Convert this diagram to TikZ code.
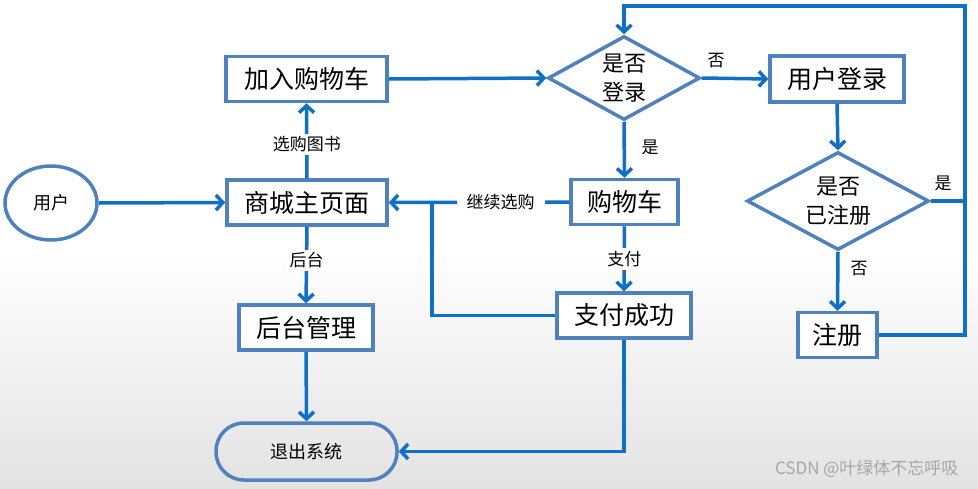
\documentclass[tikz,border=0pt]{standalone}
\usepackage{fontspec}
\setmainfont{Noto Sans CJK SC}
\usetikzlibrary{arrows.meta,shapes.geometric,calc}
\definecolor{lineblue}{RGB}{16,112,200}
\definecolor{boxblue}{RGB}{79,129,189}
\begin{document}
\begin{tikzpicture}[x=1pt,y=-1pt,
  box/.style={draw=boxblue,line width=3.5pt,fill=white,rectangle,inner sep=0pt,font=\fontsize{25}{29}\selectfont},
  diam/.style={draw=boxblue,line width=3.5pt,fill=white,diamond,inner sep=0pt,aspect=1.8},
  dtext/.style={align=center,font=\fontsize{22}{29}\selectfont},
  conn/.style={draw=lineblue,line width=3.5pt},
  arr/.style={conn,-{Straight Barb[length=7pt,width=15pt]}},
  lbl/.style={font=\fontsize{17}{20}\selectfont,fill=white,inner sep=3pt}
]
% background
\useasboundingbox (0,0) rectangle (978,488);
\fill[white] (0,0) rectangle (978,488);
\shade[top color=white,bottom color=black!11] (0,250) rectangle (978,488);

% nodes
\node[draw=boxblue,line width=3.5pt,ellipse,minimum width=92pt,minimum height=74pt,inner sep=0pt,font=\fontsize{18}{20}\selectfont,fill=white] (user) at (51,203) {用户};
\node[box,minimum width=160pt,minimum height=45pt] (mall) at (307,202.5) {商城主页面};
\node[box,minimum width=161pt,minimum height=45pt] (add) at (306.5,79) {加入购物车};
\node[diam,minimum width=152pt,minimum height=84pt] (login) at (624,78) {};
\node[dtext] (logintext) at (login) {是否\\登录};
\node[box,minimum width=134pt,minimum height=46pt] (ulogin) at (837,79) {用户登录};
\node[diam,minimum width=182pt,minimum height=98pt] (reg) at (838,201) {};
\node[dtext] (regtext) at (reg) {是否\\已注册};
\node[box,minimum width=79pt,minimum height=45pt] (register) at (837.5,335) {注册};
\node[box,minimum width=107pt,minimum height=45pt] (cart) at (624.5,202) {购物车};
\node[box,minimum width=134pt,minimum height=45pt] (paid) at (624,315.5) {支付成功};
\node[box,minimum width=134pt,minimum height=45pt] (admin) at (306,327.5) {后台管理};
\node[draw=boxblue,line width=3.5pt,rectangle,rounded corners=28pt,minimum width=181pt,minimum height=57pt,inner sep=0pt,font=\fontsize{18}{20}\selectfont] (exit) at (306.5,451.5) {退出系统};

% helper coordinates
\coordinate (tr) at (965,6);
\coordinate (jn) at (432,202.5);

% connectors
\draw[arr] (user.east) -- (mall.west);
\draw[arr] (mall.north) -- node[lbl,pos=0.45] (l1) {选购图书} (add.south);
\draw[arr] (add.east) -- (login.west);
\draw[arr] (login.east) -- (ulogin.west);
\node[font=\fontsize{17}{20}\selectfont] (lno1) at (716,61) {否};
\draw[arr] (login.south) -- (cart.north);
\node[font=\fontsize{17}{20}\selectfont] (lyes1) at (650,147) {是};
\draw[arr] (ulogin.south) -- (reg.north);
\draw[arr] (reg.south) -- (register.north);
\node[font=\fontsize{17}{20}\selectfont] (lno2) at (859,269) {否};
\draw[arr] (register.east) -| (tr) -| (login.north);
\draw[conn] (reg.east) -- (reg.east -| tr);
\node[font=\fontsize{17}{20}\selectfont] (lyes2) at (943,183) {是};
\draw[arr] (cart.west) -- node[lbl,pos=0.38,inner xsep=10pt] (l2) {继续选购} (mall.east);
\draw[arr] (cart.south) -- node[lbl,pos=0.5] (l3) {支付} (paid.north);
\draw[conn] (paid.west) -| (jn);
\draw[arr] (paid.south) |- (exit.east);
\draw[arr] (mall.south) -- node[lbl,pos=0.44] (l4) {后台} (admin.north);
\draw[arr] (admin.south) -- (exit.north);

% watermark
\node[text=black!35,font=\fontsize{17}{20}\selectfont,anchor=east] (wm) at (962,469) {CSDN @叶绿体不忘呼吸};
\end{tikzpicture}
\end{document}
